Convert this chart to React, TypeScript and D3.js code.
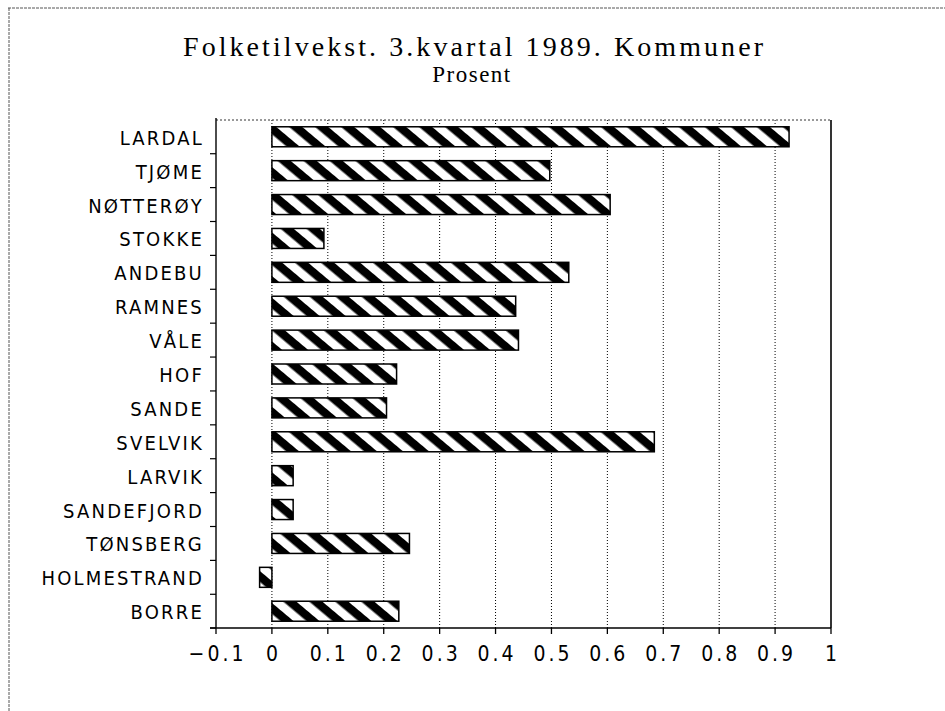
import React, { useEffect, useRef } from "react";
import * as d3 from "d3";

// data
const kommuner = ["LARDAL", "TJØME", "NØTTERØY", "STOKKE", "ANDEBU", "RAMNES", "VÅLE", "HOF", "SANDE", "SVELVIK", "LARVIK", "SANDEFJORD", "TØNSBERG", "HOLMESTRAND", "BORRE"];
const tilvekst = [0.925, 0.497, 0.605, 0.093, 0.531, 0.436, 0.441, 0.223, 0.205, 0.684, 0.038, 0.038, 0.246, -0.022, 0.227];
const xTicks = [-0.1, 0, 0.1, 0.2, 0.3, 0.4, 0.5, 0.6, 0.7, 0.8, 0.9, 1];
const xTickLabels = ["−0.1", "0", "0.1", "0.2", "0.3", "0.4", "0.5", "0.6", "0.7", "0.8", "0.9", "1"];
const gridTicks = [0, 0.1, 0.2, 0.3, 0.4, 0.5, 0.6, 0.7, 0.8, 0.9];
const title = "Folketilvekst. 3.kvartal 1989. Kommuner";
const subtitle = "Prosent";

const labelFont = "'Liberation Sans Narrow', 'DejaVu Sans Condensed', 'Liberation Sans', sans-serif";

export default function App() {
  const ref = useRef<SVGSVGElement>(null);

  useEffect(() => {
    const W = 945, H = 711;
    const margin = { top: 120, right: 114, bottom: 83, left: 216 };
    const width = W - margin.left - margin.right;
    const height = H - margin.top - margin.bottom;

    const root = d3.select(ref.current);
    root.selectAll("*").remove();
    root.attr("width", W).attr("height", H);

    root.append("rect").attr("width", W).attr("height", H).attr("fill", "#fff");

    // page frame
    root.append("line").attr("x1", 8).attr("x2", W).attr("y1", 8).attr("y2", 8)
      .attr("stroke", "#555").attr("stroke-dasharray", "3,1").attr("stroke-width", 1);
    root.append("line").attr("x1", 9).attr("x2", 9).attr("y1", 8).attr("y2", H)
      .attr("stroke", "#555").attr("stroke-dasharray", "3,1").attr("stroke-width", 1);

    // hatch
    const pat = root.append("defs").append("pattern")
      .attr("id", "hatch")
      .attr("patternUnits", "userSpaceOnUse")
      .attr("width", 10)
      .attr("height", 16.7)
      .attr("patternTransform", "rotate(40)");
    pat.append("rect").attr("width", 10).attr("height", 16.7).attr("fill", "#fff");
    pat.append("rect").attr("width", 10).attr("height", 8.35).attr("fill", "#000");

    // titles
    root.append("text")
      .attr("x", 183).attr("y", 56)
      .attr("textLength", 580).attr("lengthAdjust", "spacing")
      .style("font-family", "'Liberation Serif', 'DejaVu Serif', serif")
      .style("font-size", "28px")
      .text(title);
    root.append("text")
      .attr("x", 472).attr("y", 82)
      .attr("text-anchor", "middle")
      .style("font-family", "'Liberation Serif', 'DejaVu Serif', serif")
      .style("font-size", "23px")
      .style("letter-spacing", "1.5px")
      .text(subtitle);

    const svg = root.append("g")
      .attr("transform", "translate(" + margin.left + "," + margin.top + ")");

    const x = d3.scaleLinear().domain([-0.1, 1]).range([0, width]);
    const y = d3.scaleBand().domain(kommuner).range([0, height])
      .paddingInner(0.41).paddingOuter(0.2);

    // grid
    svg.selectAll("line.grid")
      .data(gridTicks)
      .enter().append("line")
      .attr("class", "grid")
      .attr("x1", d => x(d)).attr("x2", d => x(d))
      .attr("y1", 0).attr("y2", height)
      .attr("stroke", "#000").attr("stroke-width", 1)
      .attr("stroke-dasharray", "1,2");

    svg.append("line")
      .attr("x1", 0).attr("x2", width).attr("y1", 0).attr("y2", 0)
      .attr("stroke", "#333").attr("stroke-width", 1).attr("stroke-dasharray", "2,2");
    svg.append("line")
      .attr("x1", x(1)).attr("x2", x(1)).attr("y1", 0).attr("y2", height)
      .attr("stroke", "#000").attr("stroke-width", 1.6);

    // bars
    svg.selectAll("rect.bar")
      .data(tilvekst)
      .enter().append("rect")
      .attr("class", "bar")
      .attr("x", d => x(Math.min(0, d)))
      .attr("y", (d, i) => y(kommuner[i]) as number)
      .attr("width", d => Math.abs(x(d) - x(0)))
      .attr("height", y.bandwidth())
      .attr("fill", "url(#hatch)")
      .attr("stroke", "#000")
      .attr("stroke-width", 1.5);

    // y axis
    const gap = y.step() - y.bandwidth();
    const bounds = kommuner.map(k => (y(k) as number) - gap / 2).concat([height]);
    svg.append("line")
      .attr("x1", 0).attr("x2", 0).attr("y1", -2).attr("y2", height)
      .attr("stroke", "#000").attr("stroke-width", 1.4);
    svg.selectAll("line.ytick")
      .data(bounds.slice(1))
      .enter().append("line")
      .attr("class", "ytick")
      .attr("x1", -6).attr("x2", 0)
      .attr("y1", d => d).attr("y2", d => d)
      .attr("stroke", "#000").attr("stroke-width", 1.2);
    svg.selectAll("text.ylab")
      .data(kommuner)
      .enter().append("text")
      .attr("class", "ylab")
      .attr("x", -12)
      .attr("y", d => (y(d) as number) + y.bandwidth() / 2 + 8)
      .attr("text-anchor", "end")
      .style("font-family", labelFont)
      .style("font-size", "20px")
      .style("letter-spacing", "2.2px")
      .text(d => d);

    // x axis
    svg.append("line")
      .attr("x1", -6).attr("x2", width).attr("y1", height).attr("y2", height)
      .attr("stroke", "#000").attr("stroke-width", 1.3);
    svg.selectAll("line.xtick")
      .data(xTicks)
      .enter().append("line")
      .attr("class", "xtick")
      .attr("x1", d => x(d)).attr("x2", d => x(d))
      .attr("y1", height).attr("y2", height + 6)
      .attr("stroke", "#000").attr("stroke-width", 1.3);
    svg.selectAll("text.xlab")
      .data(xTicks)
      .enter().append("text")
      .attr("class", "xlab")
      .attr("x", d => x(d))
      .attr("dx", 1.5)
      .attr("y", height + 33)
      .attr("text-anchor", "middle")
      .style("font-family", labelFont)
      .style("font-size", "21px")
      .style("letter-spacing", "3px")
      .text((d, i) => xTickLabels[i]);
  }, []);

  return (
    <svg ref={ref} style={{ position: "absolute", left: 0, top: 0, display: "block" }}></svg>
  );
}
